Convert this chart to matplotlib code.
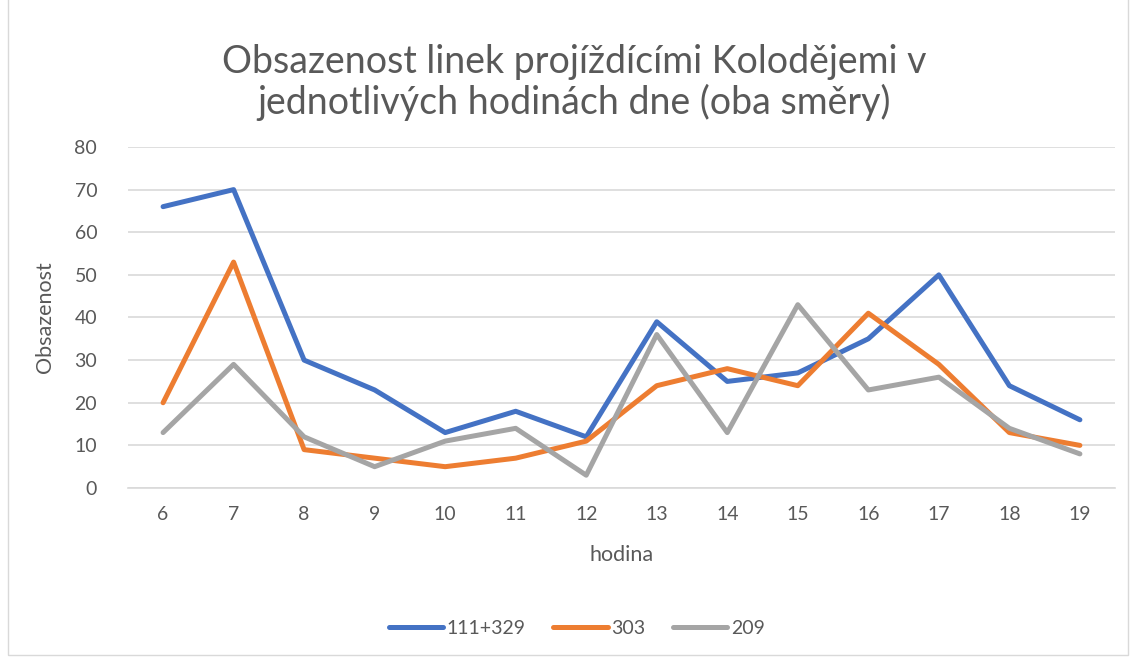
import matplotlib.pyplot as plt
from matplotlib.patches import Rectangle

hours = [6, 7, 8, 9, 10, 11, 12, 13, 14, 15, 16, 17, 18, 19]
line_111_329 = [66, 70, 30, 23, 13, 18, 12, 39, 25, 27, 35, 50, 24, 16]
line_303 = [20, 53, 9, 7, 5, 7, 11, 24, 28, 24, 41, 29, 13, 10]
line_209 = [13, 29, 12, 5, 11, 14, 3, 36, 13, 43, 23, 26, 14, 8]
series_names = ["111+329", "303", "209"]

plt.rcParams["font.family"] = ["Lato", "DejaVu Sans"]
text_color = "#595959"
grid_color = "#d9d9d9"

fig = plt.figure(figsize=(11.31, 6.6), dpi=100)
ax = fig.add_axes([0.113, 0.2606, 0.873, 0.5167])

pos = list(range(len(hours)))
colors = ["#4472C4", "#ED7D31", "#A5A5A5"]
for vals, name, c in zip([line_111_329, line_303, line_209], series_names, colors):
    ax.plot(pos, vals, color=c, lw=3.6, label=name,
            solid_capstyle="round", solid_joinstyle="round")

ax.set_xlim(-0.5, len(hours) - 0.5)
ax.set_ylim(0, 80)
ax.set_yticks(range(0, 81, 10))
ax.set_xticks(pos)
ax.set_xticklabels([str(h) for h in hours])
ax.grid(axis="y", color=grid_color, lw=1.2)
ax.set_axisbelow(True)
for s in ["top", "left", "right"]:
    ax.spines[s].set_visible(False)
ax.spines["bottom"].set_color(grid_color)
ax.spines["bottom"].set_linewidth(1.2)
ax.tick_params(length=0, labelsize=14, colors=text_color)
ax.tick_params(axis="y", pad=22)
ax.tick_params(axis="x", pad=13)

ax.set_xlabel("hodina", fontsize=15.5, color=text_color, labelpad=16)
ax.set_ylabel("Obsazenost", fontsize=15.5, color=text_color, labelpad=14)

fig.text(0.508, 0.875, "Obsazenost linek projíždícími Kolodějemi v\njednotlivých hodinách dne (oba směry)",
         ha="center", va="center", fontsize=27, color=text_color, linespacing=1.12)

leg = fig.legend(loc="center", bbox_to_anchor=(0.51, 0.048), ncol=3, frameon=False,
                 fontsize=14, handlelength=2.8, handletextpad=0.2, columnspacing=1.4)
for t in leg.get_texts():
    t.set_color(text_color)

fig.patches.append(Rectangle((0.007, 0.007), 0.99, 1.2, transform=fig.transFigure,
                             fill=False, edgecolor=grid_color, lw=1.0))

fig.savefig("out.png", dpi=100)
